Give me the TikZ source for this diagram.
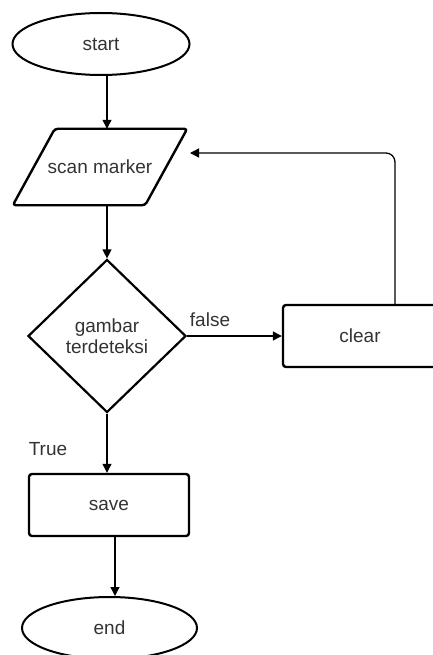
\documentclass[tikz,border=0pt]{standalone}
\usepackage{fontspec}
\setmainfont{Liberation Sans}
\usetikzlibrary{positioning, arrows.meta, shapes.geometric}
\definecolor{txtgray}{HTML}{333333}
\tikzset{
  term/.style    = {ellipse, draw, line width=2pt, minimum width=177pt, minimum height=62pt, text=txtgray},
  io/.style      = {rectangle, minimum width=174pt, minimum height=76pt, text=txtgray},
  iobox/.style   = {line width=2.4pt, rounded corners=3pt},
  decision/.style= {diamond, draw, line width=2.2pt, minimum width=158pt, minimum height=153pt,
                    inner sep=0pt, align=center, text=txtgray},
  process/.style = {rectangle, draw, line width=2.4pt, rounded corners=3pt, minimum width=160pt, minimum height=62pt, text=txtgray},
  lbl/.style     = {text=txtgray},
  arr/.style     = {-{Triangle[length=9pt, width=9pt]}, line width=1.3pt}
}
\begin{document}
\begin{tikzpicture}[x=1pt, y=-1pt, font=\fontsize{19}{21}\selectfont]
        \useasboundingbox (0,0) rectangle (433,655);
        \node[term]     (start) at (101, 44)  {start};
        \node[io]       (scan)  at (100,167)  {scan marker};
        \draw[iobox] ([xshift=42pt]scan.north west) -- (scan.north east)
                  -- ([xshift=-42pt]scan.south east) -- (scan.south west) -- cycle;
        \node[decision] (dec)   at (107,336)  {gambar\\terdeteksi};
        \node[process, minimum width=154pt] (clear) at (360,336) {clear};
        \node[process]  (save)  at (109,505)  {save};
        \node[term, minimum width=175pt] (end) at (109.5,628) {end};
        \coordinate (back) at (190,153);
        \draw[arr] (start.south -| dec) -- (scan.north -| dec);
        \draw[arr] (scan.south -| dec) -- (dec.north);
        \draw[arr] (dec.east) -- (clear.west);
        \draw[arr] (dec.south) -- (save.north -| dec);
        \draw[arr] ([xshift=6pt]save.south) -- ([xshift=6pt]save.south |- end.north);
        \draw[arr, rounded corners=9pt] ([xshift=35pt]clear.north) |- (back);
        \node[lbl] (lfalse) at (210,320) {false};
        \node[lbl] (ltrue)  at (48,449)  {True};
      \end{tikzpicture}
\end{document}
